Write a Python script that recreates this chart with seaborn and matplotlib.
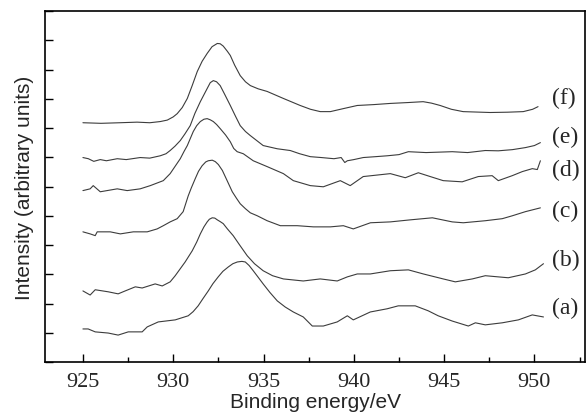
import matplotlib
matplotlib.use("Agg")
import matplotlib.pyplot as plt
import seaborn as sns
import pandas as pd
from matplotlib.ticker import MultipleLocator

# Binding energy (eV) / intensity (arbitrary units, offset spectra)
energy_a = [925.0, 925.29, 925.68, 926.4, 926.95, 927.51, 928.28, 928.56, 929.17, 930.11, 930.83,
            931.1, 931.38, 931.65, 931.94, 932.2, 932.49, 932.75, 933.05, 933.3, 933.55, 933.8,
            933.99, 934.2, 934.43, 934.7, 934.98, 935.35, 935.76, 936.2, 936.65, 937.2,
            937.7, 938.31, 939.08, 939.64, 939.97, 940.91, 941.85, 942.46, 943.4, 944.12, 944.67,
            945.45, 946.34, 946.73, 947.28, 948.22, 949.11, 949.88, 950.5]
inten_a = [1.13, 1.13, 1.03, 0.99, 0.92, 1.03, 1.03, 1.20, 1.37, 1.44, 1.58,
           1.72, 1.92, 2.17, 2.43, 2.68, 2.91, 3.10, 3.25, 3.36, 3.42, 3.44,
           3.42, 3.30, 3.12, 2.90, 2.67, 2.38, 2.09, 1.88, 1.71, 1.54,
           1.23, 1.23, 1.37, 1.58, 1.44, 1.71, 1.82, 1.92, 1.92, 1.75, 1.58,
           1.40, 1.23, 1.34, 1.27, 1.34, 1.44, 1.61, 1.54]

energy_b = [925.0, 925.4, 925.68, 926.4, 926.95, 927.34, 927.9, 928.28, 929.0, 929.39, 929.83,
            930.11, 930.66, 931.05, 931.3, 931.5, 931.7, 931.88, 932.0, 932.16, 932.3, 932.44,
            932.6, 932.77, 933.0, 933.32, 933.7, 934.1, 934.5, 934.98, 935.5,
            936.1, 937.2, 938.14, 939.08, 939.64, 940.19, 940.91, 942.02, 943.02, 943.85, 944.95,
            945.62, 946.56, 947.28, 948.55, 949.5, 950.05, 950.5]
inten_b = [2.43, 2.29, 2.47, 2.40, 2.33, 2.43, 2.57, 2.53, 2.67, 2.60, 2.74,
           2.95, 3.42, 3.80, 4.10, 4.38, 4.62, 4.79, 4.88, 4.93, 4.92, 4.86,
           4.80, 4.73, 4.55, 4.32, 3.98, 3.63, 3.36, 3.12, 2.95,
           2.84, 2.77, 2.84, 2.77, 2.91, 3.01, 3.01, 3.12, 3.15, 3.01, 2.84,
           2.74, 2.84, 2.95, 2.88, 3.01, 3.15, 3.36]

energy_c = [925.0, 925.4, 925.68, 925.79, 926.51, 927.07, 927.79, 928.56, 929.11, 929.45, 929.83,
            930.22, 930.55, 930.83, 931.0, 931.22, 931.4, 931.6, 931.8, 931.94, 932.16, 932.33,
            932.5, 932.72, 933.0, 933.27, 933.5, 933.71, 934.0, 934.27, 934.65, 935.2, 935.93,
            936.87, 937.76, 938.7, 939.42, 939.97, 940.92, 942.02,
            943.13, 944.35, 945.45, 946.06, 947.28, 948.22, 948.78, 949.5, 950.33]
inten_c = [4.45, 4.38, 4.32, 4.45, 4.45, 4.38, 4.45, 4.45, 4.55, 4.66, 4.79,
           4.90, 5.14, 5.68, 5.95, 6.27, 6.52, 6.71, 6.84, 6.88, 6.90, 6.85,
           6.75, 6.55, 6.18, 5.82, 5.60, 5.41, 5.24, 5.10, 5.00, 4.83, 4.66,
           4.66, 4.62, 4.62, 4.66, 4.55, 4.76, 4.79,
           4.86, 4.93, 4.79, 4.76, 4.83, 4.90, 5.00, 5.14, 5.27]

energy_d = [925.0, 925.4, 925.57, 925.96, 926.9, 927.45, 928.17, 928.73, 929.45, 929.83, 930.39,
            930.6, 930.78, 931.11, 931.3, 931.5, 931.7, 931.88, 932.05, 932.22, 932.4, 932.6,
            932.9, 933.16, 933.35, 933.54, 933.88, 934.43, 935.2,
            936.1, 936.65, 937.59, 938.31, 939.25, 939.8, 940.52, 942.02, 942.85, 943.57, 944.23,
            944.95, 946.0, 946.89, 947.66, 948.0, 948.77, 949.33, 949.88, 950.16, 950.33]
inten_d = [5.86, 5.92, 6.03, 5.82, 5.92, 5.86, 5.92, 6.03, 6.20, 6.44, 6.95,
           7.20, 7.40, 7.88, 8.08, 8.22, 8.30, 8.32, 8.28, 8.22, 8.12, 7.98,
           7.76, 7.53, 7.30, 7.19, 7.12, 6.88, 6.68,
           6.44, 6.20, 6.03, 5.99, 6.20, 6.03, 6.34, 6.44, 6.30, 6.47, 6.34,
           6.20, 6.16, 6.34, 6.37, 6.20, 6.37, 6.51, 6.61, 6.58, 6.88]

energy_e = [925.0, 925.3, 925.6, 925.96, 926.3, 926.9, 927.4, 928.17, 928.7, 929.28, 929.6,
            929.83, 930.1, 930.39, 930.65, 930.94, 931.2, 931.5, 931.88, 932.05, 932.22, 932.4,
            932.6, 932.85, 933.16, 933.45, 933.71, 934.0, 934.27, 934.98, 935.76, 936.48,
            937.0, 937.59, 938.2, 938.9, 939.3, 939.5, 939.64, 940.0, 940.52, 941.2, 941.85,
            942.5, 943.02, 944.0, 945.45, 946.3, 947.28, 948.0, 948.78, 949.5, 950.0, 950.33]
inten_e = [6.99, 6.95, 6.86, 6.92, 6.88, 6.95, 6.92, 6.99, 6.97, 7.05, 7.12,
           7.23, 7.38, 7.57, 7.80, 8.08, 8.50, 8.90, 9.35, 9.55, 9.62, 9.58,
           9.45, 9.15, 8.77, 8.40, 8.08, 7.88, 7.74, 7.40, 7.29, 7.23,
           7.12, 7.02, 6.99, 6.95, 6.99, 6.82, 6.88, 6.92, 6.99, 7.02, 7.05,
           7.09, 7.19, 7.16, 7.19, 7.16, 7.23, 7.22, 7.26, 7.33, 7.40, 7.50]

energy_f = [925.0, 926.0, 927.05, 928.0, 928.7, 929.28, 929.67, 930.0, 930.22, 930.5, 930.78,
            931.05, 931.33, 931.6, 931.88, 932.15, 932.44, 932.6, 932.77, 933.0, 933.16, 933.4,
            933.71, 934.0, 934.27, 934.7, 935.2, 936.1, 937.03, 937.6, 938.14, 938.7, 939.4,
            940.19, 941.1, 942.02, 943.0, 943.84, 944.3, 944.78, 945.4, 946.05, 947.55, 948.5,
            949.38, 949.9, 950.2]
inten_f = [8.18, 8.16, 8.18, 8.20, 8.18, 8.22, 8.27, 8.38, 8.49, 8.70, 9.01,
           9.45, 9.93, 10.28, 10.55, 10.78, 10.89, 10.88, 10.80, 10.62, 10.48, 10.15,
           9.79, 9.58, 9.45, 9.34, 9.25, 9.01, 8.77, 8.64, 8.56, 8.56, 8.66,
           8.77, 8.80, 8.84, 8.87, 8.90, 8.85, 8.77, 8.64, 8.56, 8.53, 8.54,
           8.56, 8.64, 8.73]

labels = ["(a)", "(b)", "(c)", "(d)", "(e)", "(f)"]
label_y = [1.88, 3.49, 5.17, 6.58, 7.71, 9.04]

series = [(energy_a, inten_a), (energy_b, inten_b), (energy_c, inten_c),
          (energy_d, inten_d), (energy_e, inten_e), (energy_f, inten_f)]

frames = []
for lab, (e, i) in zip(labels, series):
    frames.append(pd.DataFrame({"energy": e, "intensity": i, "sample": lab}))
df = pd.concat(frames, ignore_index=True)

sns.set_style("ticks")
plt.rcParams["font.family"] = ["Liberation Serif"]

fig = plt.figure(figsize=(5.88, 4.14), dpi=100)
ax = fig.add_axes([45 / 588, 51 / 414, 540 / 588, 351 / 414])

sns.lineplot(data=df, x="energy", y="intensity", hue="sample", units="sample",
             estimator=None, sort=False, palette=["#3c3c3c"] * 6, linewidth=0.8,
             legend=False, ax=ax)

ax.set_xlim(922.9, 952.8)
ax.set_ylim(0, 12)
ax.xaxis.set_major_locator(MultipleLocator(5))
ax.xaxis.set_minor_locator(MultipleLocator(2.5))
ax.yaxis.set_major_locator(MultipleLocator(1))
ax.set_yticklabels([])
ax.tick_params(axis="both", which="major", direction="in", length=6, width=1.0, color="black")
ax.tick_params(axis="both", which="minor", direction="in", length=3.5, width=1.0, color="black")
ax.tick_params(axis="x", labelsize=16, pad=7)
ax.tick_params(axis="y", left=True, labelleft=False)
for lbl in ax.get_xticklabels():
    lbl.set_family("Liberation Serif")
for s in ax.spines.values():
    s.set_linewidth(1.2)
    s.set_color("black")
    s.set_visible(True)

ax.set_xlabel("Binding energy/eV", family="Liberation Sans", fontsize=15, labelpad=1)
ax.set_ylabel("Intensity (arbitrary units)", family="Liberation Sans", fontsize=15, labelpad=8)

for lab, yv in zip(labels, label_y):
    ax.text(951.0, yv, lab, fontsize=17, ha="left", va="center", family="Liberation Serif")

fig.savefig("out.png", dpi=100)
